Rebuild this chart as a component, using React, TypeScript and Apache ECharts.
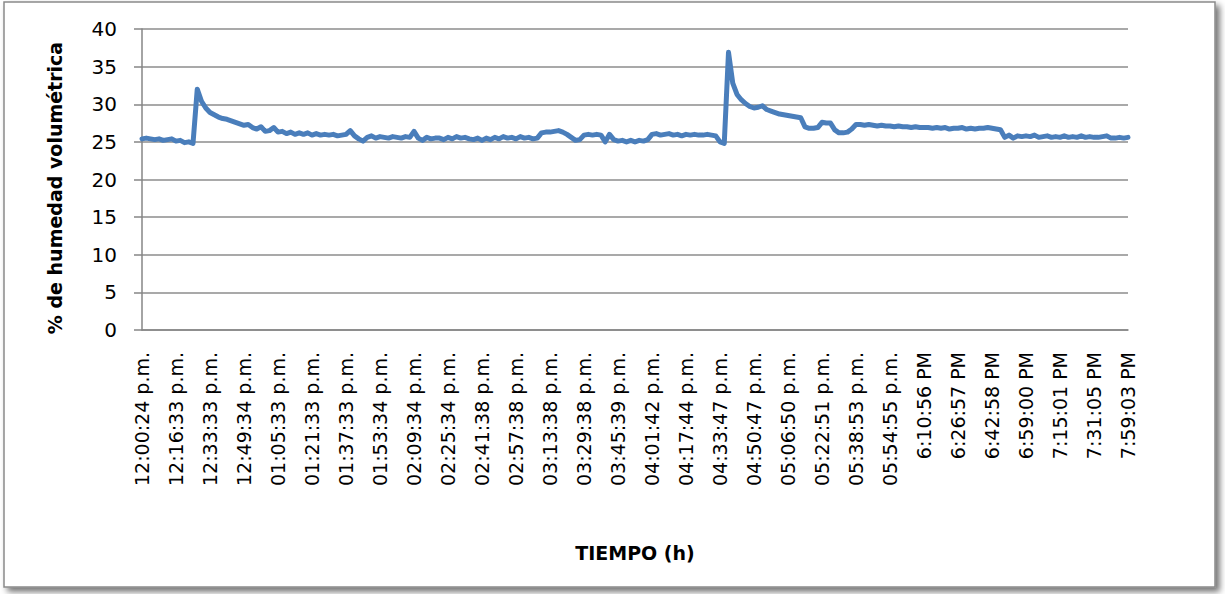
import React, { useEffect, useRef } from "react";
import * as echarts from "echarts";

// Tick labels shown every 8 samples on the category axis
const tickLabels = [
  "12:00:24 p.m.", "12:16:33 p.m.", "12:33:33 p.m.", "12:49:34 p.m.", "01:05:33 p.m.",
  "01:21:33 p.m.", "01:37:33 p.m.", "01:53:34 p.m.", "02:09:34 p.m.", "02:25:34 p.m.",
  "02:41:38 p.m.", "02:57:38 p.m.", "03:13:38 p.m.", "03:29:38 p.m.", "03:45:39 p.m.",
  "04:01:42 p.m.", "04:17:44 p.m.", "04:33:47 p.m.", "04:50:47 p.m.", "05:06:50 p.m.",
  "05:22:51 p.m.", "05:38:53 p.m.", "05:54:55 p.m.", "6:10:56 PM", "6:26:57 PM",
  "6:42:58 PM", "6:59:00 PM", "7:15:01 PM", "7:31:05 PM", "7:59:03 PM",
];
const labelStep = 8;

// % humedad volumétrica
const humedad1 = [
  25.4, 25.5, 25.4, 25.3, 25.4, 25.2, 25.3, 25.4, 25.1, 25.2, 24.9, 25.0, 24.8,
  32.0, 30.4, 29.5, 28.9, 28.6, 28.3, 28.1, 28.0, 27.8, 27.6, 27.4, 27.2,
  27.3, 26.9, 26.7, 27.0, 26.4, 26.5, 26.9, 26.3, 26.4, 26.1, 26.3, 26.0, 26.2,
  26.0, 26.2, 25.9, 26.1, 25.9, 26.0, 25.9, 26.0, 25.8, 25.9, 26.0, 26.5,
  25.8, 25.4, 25.1, 25.6, 25.8, 25.5, 25.7, 25.6,
];
const humedad2 = [
  25.5, 25.7, 25.6, 25.5, 25.7, 25.6, 26.4, 25.5, 25.2, 25.6, 25.4, 25.5,
  25.5, 25.3, 25.6, 25.4, 25.7, 25.5, 25.6, 25.4, 25.3, 25.5, 25.2, 25.5,
  25.3, 25.6, 25.4, 25.7, 25.5, 25.6, 25.4, 25.7, 25.5, 25.6, 25.4, 25.5,
  26.2, 26.3, 26.3, 26.4, 26.5, 26.3, 26.0, 25.6, 25.2, 25.3, 25.9, 26.0,
  25.9, 26.0, 25.9, 25.0, 26.0, 25.3, 25.1, 25.2, 25.0, 25.2, 25.0, 25.2, 25.1, 25.3,
  26.0, 26.1, 25.9, 26.0, 26.1, 25.9, 26.0, 25.8, 26.0, 25.9, 26.0, 25.9, 25.9, 26.0, 25.9, 25.8, 25.0, 24.8,
];
const humedad3 = [
  36.9, 32.8, 31.3, 30.6, 30.1, 29.7, 29.5, 29.6, 29.8, 29.3, 29.1, 28.9, 28.7, 28.6, 28.5, 28.4, 28.3, 28.2,
  27.0, 26.8, 26.8, 26.9, 27.6, 27.5, 27.5, 26.6, 26.2, 26.2, 26.3, 26.7,
  27.3, 27.3, 27.2, 27.3, 27.2, 27.1, 27.2, 27.1, 27.1, 27.0, 27.1, 27.0, 27.0, 26.9, 27.0, 26.9, 26.9, 26.9,
  26.8, 26.9, 26.8, 26.9, 26.7, 26.8, 26.8, 26.9, 26.7, 26.8, 26.7, 26.8, 26.8, 26.9, 26.8, 26.7, 26.6,
];
const humedad4 = [
  25.6, 25.9, 25.5, 25.8, 25.7, 25.8, 25.7, 25.9, 25.6, 25.7, 25.8, 25.6, 25.7, 25.6, 25.8,
  25.6, 25.7, 25.6, 25.8, 25.6, 25.7, 25.6, 25.6, 25.7, 25.8, 25.5, 25.5, 25.6, 25.5, 25.6,
];

const yTicks = { min: 0, max: 40, interval: 5 };

export default function App() {
  const ref = useRef<HTMLDivElement>(null);

  useEffect(() => {
    if (!ref.current) return;
    const chart = echarts.init(ref.current, null, { renderer: "svg" });
    const values = [...humedad1, ...humedad2, ...humedad3, ...humedad4];
    const categories = values.map((_, i) =>
      i % labelStep === 0 && tickLabels[i / labelStep] !== undefined ? tickLabels[i / labelStep] : `t${i}`
    );
    const font = "'DejaVu Sans', sans-serif";
    chart.setOption({
      animation: false,
      backgroundColor: "transparent",
      graphic: [
        {
          type: "rect",
          z: -10,
          shape: { x: 4, y: 2, width: 1211, height: 585 },
          style: {
            fill: "#ffffff",
            stroke: "#8a8a8a",
            lineWidth: 1.5,
            shadowBlur: 6,
            shadowOffsetX: 4,
            shadowOffsetY: 4,
            shadowColor: "rgba(0,0,0,0.55)",
          },
        },
        {
          type: "text",
          x: 55,
          y: 188,
          rotation: Math.PI / 2,
          style: {
            text: "% de humedad volumétrica",
            font: `bold 19px ${font}`,
            fill: "#000",
            align: "center",
            verticalAlign: "middle",
          },
        },
      ],
      grid: { left: 142, right: 97, top: 29, bottom: 264 },
      xAxis: {
        type: "category",
        data: categories,
        boundaryGap: false,
        name: "TIEMPO (h)",
        nameLocation: "middle",
        nameGap: 213,
        nameTextStyle: { fontFamily: font, fontWeight: "bold", fontSize: 19, color: "#000" },
        axisLine: { show: true, lineStyle: { color: "#868686", width: 1.5 } },
        axisTick: { show: false },
        axisLabel: {
          interval: labelStep - 1,
          rotate: 90,
          margin: 22,
          fontFamily: font,
          fontSize: 19,
          color: "#000",
        },
        splitLine: { show: false },
      },
      yAxis: {
        type: "value",
        min: yTicks.min,
        max: yTicks.max,
        interval: yTicks.interval,
        axisLine: { show: true, lineStyle: { color: "#868686", width: 1.5 } },
        axisTick: { show: true, length: 8, lineStyle: { color: "#868686", width: 1.5 } },
        axisLabel: { margin: 25, fontFamily: font, fontSize: 20, color: "#000" },
        splitLine: { show: true, lineStyle: { color: "#8c8c8c", width: 1.5 } },
      },
      series: [
        {
          type: "line",
          data: values,
          showSymbol: false,
          symbol: "none",
          lineStyle: { color: "#4a7ebb", width: 5, join: "round", cap: "round" },
          itemStyle: { color: "#4a7ebb" },
        },
      ],
    });
    return () => chart.dispose();
  }, []);

  return (
    <div
      ref={ref}
      style={{ position: "fixed", left: 0, top: 0, width: 1225, height: 594, background: "#ffffff" }}
    />
  );
}
